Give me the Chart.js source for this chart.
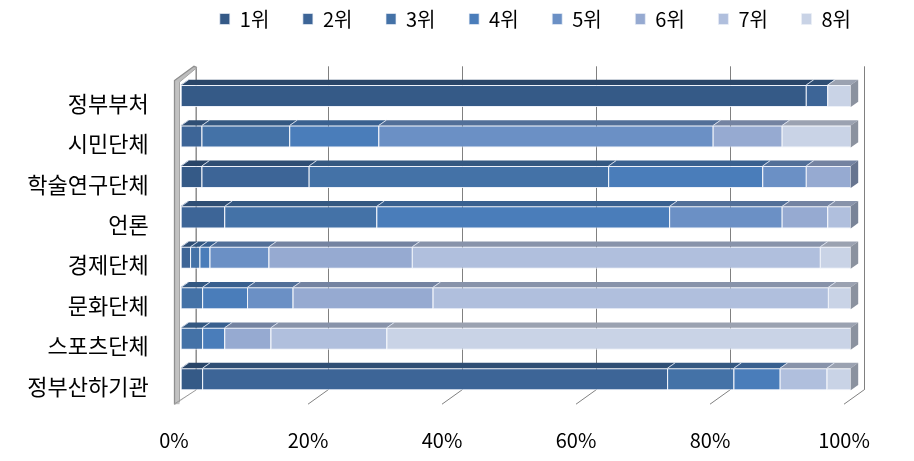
<!DOCTYPE html>
<html>
<head>
<meta charset="utf-8">
<script src="https://cdn.jsdelivr.net/npm/chart.js@4/dist/chart.umd.min.js"></script>
<style>
html,body{margin:0;padding:0;background:#ffffff;}
#wrap{width:914px;height:461px;}
</style>
</head>
<body>
<div id="wrap"><canvas id="c" width="914" height="461"></canvas></div>
<script>
// ---- data ----
const categories = ['정부부처','시민단체','학술연구단체','언론','경제단체','문화단체','스포츠단체','정부산하기관'];
const seriesNames = ['1위','2위','3위','4위','5위','6위','7위','8위'];
const rank1 = [93.3, 0,    3.1,  0,    0,    0,    0,    3.2];
const rank2 = [3.2,  3.1,  16.0, 6.5,  1.4,  0,    0,    69.4];
const rank3 = [0,    13.1, 44.7, 22.7, 1.4,  3.2,  3.2,  9.9];
const rank4 = [0,    13.3, 23.0, 43.7, 1.5,  6.7,  3.3,  6.9];
const rank5 = [0,    49.9, 6.5,  16.8, 8.8,  6.8,  0,    0];
const rank6 = [0,    10.3, 6.7,  6.8,  21.4, 20.9, 6.9,  0];
const rank7 = [0,    0,    0,    3.5,  60.9, 59.0, 17.3, 7.0];
const rank8 = [3.5,  10.3, 0,    0,    4.6,  3.4,  69.3, 3.6];
const xTicks = [0, 20, 40, 60, 80, 100];

// ---- styles ----
const seriesColors = ['#355A87','#3D6597','#4472A7','#4A7DBA','#6B90C5','#96AAD1','#B0BFDD','#C9D3E6'];
const FONT = '"Noto Sans CJK KR", "Noto Sans", sans-serif';
const DEPTH_DX = 7.5, DEPTH_DY = -5.3;       // bar depth
const FRONT_DX = -6.7, FRONT_DY = 4.8;        // floor/wall front plane offset from bar plane
const BACK_DX = 13.3, BACK_DY = -9.5;         // back wall offset from bar plane

// legend geometry: items every 83.1px starting at x=220.3, text centred at y=19
const LEG_FONT = 20, LEG_BOX = 10, LEG_PITCH = 83.1, LEG_START = 220.3, LEG_CY = 19, PLOT_TOP = 75.8;
const mctx = document.createElement('canvas').getContext('2d');
mctx.font = LEG_FONT + 'px ' + FONT;
const widths = seriesNames.map(s => LEG_BOX + LEG_FONT / 2 + mctx.measureText(s).width);
const avgW = widths.reduce((a, b) => a + b, 0) / widths.length;
const LEG_PAD = LEG_PITCH - avgW;
const LEG_TOP = LEG_CY - LEG_FONT / 2 - LEG_PAD;
const LEGEND_H = PLOT_TOP - LEG_TOP;
const lastStart = LEG_START + 7 * LEG_PITCH;
const LEG_RIGHT = lastStart + widths[widths.length - 1] + LEG_PAD;

const allSeries = [rank1, rank2, rank3, rank4, rank5, rank6, rank7, rank8];

function shade(hex, f) {
  const n = parseInt(hex.slice(1), 16);
  const r = Math.round(((n >> 16) & 255) * f);
  const g = Math.round(((n >> 8) & 255) * f);
  const b = Math.round((n & 255) * f);
  return 'rgb(' + r + ',' + g + ',' + b + ')';
}

const datasets = allSeries.map((arr, i) => ({
  label: seriesNames[i],
  data: arr.map(v => (v === 0 ? null : v)),
  backgroundColor: seriesColors[i],
  borderColor: 'rgba(235,240,248,0.9)',
  borderWidth: {top: 1, bottom: 1, left: 1, right: 0},
  borderSkipped: false,
  barPercentage: 0.544,
  categoryPercentage: 1.0
}));

const legendFix = {
  id: 'legendFix',
  beforeLayout(chart) {
    const lg = chart.legend;
    if (lg && !lg._fixedH) {
      const f = lg.fit;
      lg.fit = function () {
        f.call(this);
        this.height = LEGEND_H;
        if (this.lineWidths && this.lineWidths.length) this.lineWidths[0] += 0.5;
      };
      lg._fixedH = true;
    }
  }
};

const threeD = {
  id: 'threeD',
  beforeDatasetsDraw(chart) {
    const ctx = chart.ctx, xs = chart.scales.x, ca = chart.chartArea;
    const fTop = ca.top + FRONT_DY, fBot = ca.bottom + FRONT_DY;
    const bTop = ca.top + BACK_DY, bBot = ca.bottom + BACK_DY;
    const p0 = xs.getPixelForValue(0);
    const fx0 = p0 + FRONT_DX, bx0 = p0 + BACK_DX;
    const T = 5.5; // wall thickness
    ctx.save();
    // back gridlines + floor ticks
    ctx.strokeStyle = '#808080';
    ctx.lineWidth = 1;
    xTicks.forEach(v => {
      if (v === 0) return;
      const p = xs.getPixelForValue(v);
      const bx = Math.round(p + BACK_DX) + 0.5;
      ctx.beginPath(); ctx.moveTo(bx, bTop); ctx.lineTo(bx, bBot); ctx.stroke();
      ctx.beginPath(); ctx.moveTo(p + FRONT_DX, fBot); ctx.lineTo(p + BACK_DX, bBot); ctx.stroke();
    });
    // back edge of the left wall
    ctx.strokeStyle = '#8c8c8c';
    ctx.lineWidth = 1.5;
    ctx.beginPath(); ctx.moveTo(bx0 + T * 0.4, bTop + 1); ctx.lineTo(bx0 + T * 0.4, bBot); ctx.stroke();
    // wall slab: front face (vertical strip)
    ctx.fillStyle = '#c2c2c2';
    ctx.fillRect(fx0, fTop, T, fBot - fTop);
    // wall top (slanted band)
    ctx.fillStyle = '#bdbdbd';
    ctx.beginPath();
    ctx.moveTo(fx0, fTop); ctx.lineTo(bx0, bTop); ctx.lineTo(bx0 + T * 0.55, bTop + 1.2); ctx.lineTo(fx0 + T, fTop + 1.5);
    ctx.closePath(); ctx.fill();
    ctx.strokeStyle = '#8f8f8f'; ctx.lineWidth = 1.3;
    ctx.beginPath(); ctx.moveTo(fx0 + 0.5, fBot); ctx.lineTo(fx0 + 0.5, fTop); ctx.lineTo(bx0, bTop); ctx.lineTo(bx0 + T * 0.55, bTop + 1.2); ctx.stroke();
    ctx.strokeStyle = '#a4a4a4'; ctx.lineWidth = 1;
    ctx.beginPath(); ctx.moveTo(fx0 + T, fBot - 2); ctx.lineTo(fx0 + T, fTop + 1.5); ctx.lineTo(bx0 + T * 0.55, bTop + 1.2); ctx.stroke();
    // wall bottom wedge
    ctx.fillStyle = '#b0b0b0';
    ctx.beginPath();
    ctx.moveTo(fx0, fBot); ctx.lineTo(fx0 + T, fBot - 3); ctx.lineTo(bx0 + T * 0.4, bBot); ctx.lineTo(fx0 + 1, fBot + 0.5);
    ctx.closePath(); ctx.fill();
    ctx.strokeStyle = '#999999'; ctx.lineWidth = 1;
    ctx.beginPath(); ctx.moveTo(fx0, fBot); ctx.lineTo(bx0 + T * 0.4, bBot); ctx.stroke();
    ctx.restore();
  },
  afterDatasetsDraw(chart) {
    const ctx = chart.ctx;
    const n = categories.length;
    const lastEl = new Array(n).fill(null);
    ctx.save();
    chart.data.datasets.forEach((ds, i) => {
      const meta = chart.getDatasetMeta(i);
      meta.data.forEach((el, j) => {
        if (ds.data[j] == null) return;
        const {x, y, base, height} = el.getProps(['x', 'y', 'base', 'height'], true);
        const L = Math.min(x, base), R = Math.max(x, base);
        if (R - L < 0.3) return;
        const T = y - height / 2;
        ctx.fillStyle = shade(seriesColors[i], 0.77);
        ctx.beginPath();
        ctx.moveTo(L, T); ctx.lineTo(R, T); ctx.lineTo(R + DEPTH_DX, T + DEPTH_DY); ctx.lineTo(L + DEPTH_DX, T + DEPTH_DY);
        ctx.closePath(); ctx.fill();
        ctx.strokeStyle = 'rgba(225,232,244,0.85)';
        ctx.lineWidth = 1;
        ctx.beginPath(); ctx.moveTo(L + 0.5, T); ctx.lineTo(L + 0.5 + DEPTH_DX, T + DEPTH_DY); ctx.stroke();
        if (!lastEl[j] || R > lastEl[j].R) lastEl[j] = {R, T, B: y + height / 2, c: seriesColors[i]};
      });
    });
    lastEl.forEach(e => {
      if (!e) return;
      ctx.fillStyle = shade(e.c, 0.69);
      ctx.beginPath();
      ctx.moveTo(e.R, e.T); ctx.lineTo(e.R + DEPTH_DX, e.T + DEPTH_DY); ctx.lineTo(e.R + DEPTH_DX, e.B + DEPTH_DY); ctx.lineTo(e.R, e.B);
      ctx.closePath(); ctx.fill();
    });
    ctx.restore();
  }
};

new Chart(document.getElementById('c'), {
  type: 'bar',
  data: {labels: categories, datasets},
  options: {
    responsive: false,
    animation: false,
    indexAxis: 'y',
    layout: {padding: {top: LEG_TOP, left: 0, right: 914 - LEG_RIGHT, bottom: 0}},
    plugins: {
      legend: {
        position: 'top',
        align: 'end',
        labels: {boxWidth: LEG_BOX, boxHeight: 11, padding: LEG_PAD, color: '#000', font: {family: FONT, size: LEG_FONT}}
      },
      tooltip: {enabled: false}
    },
    scales: {
      x: {
        stacked: true, min: 0, max: 100,
        afterBuildTicks(s) { s.ticks = xTicks.map(v => ({value: v})); },
        ticks: {callback: v => v + '%', labelOffset: -6.7, padding: 29, maxRotation: 0, autoSkip: false,
                color: '#000', font: {family: FONT, size: 20}},
        grid: {display: false, drawTicks: false},
        border: {display: false},
        afterFit(s) { s.height = 61.6; s.paddingLeft = 0; s.paddingRight = 63.3; }
      },
      y: {
        stacked: true,
        ticks: {labelOffset: 7.3, padding: 32, color: '#000', font: {family: FONT, size: 22}},
        grid: {display: false, drawTicks: false},
        border: {display: false},
        afterFit(s) { s.width = 180.7; s.paddingTop = 0; s.paddingBottom = 0; }
      }
    }
  },
  plugins: [legendFix, threeD]
});
</script>
</body>
</html>
